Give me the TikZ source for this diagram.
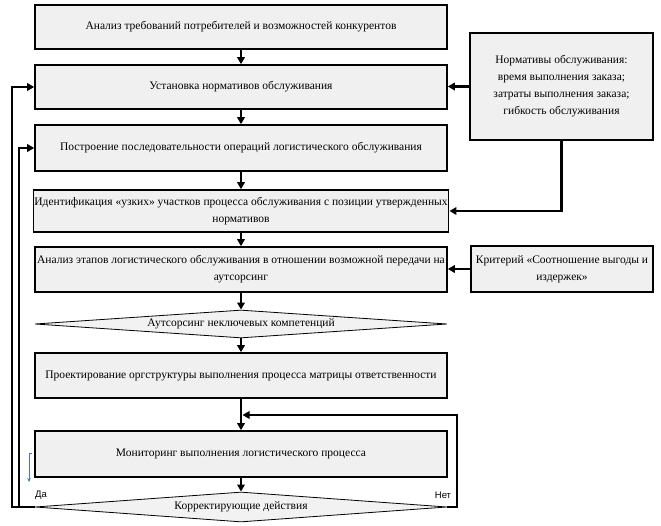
\documentclass[tikz,border=0pt]{standalone}
\usepackage{fontspec}
\setmainfont{Liberation Serif}
\setsansfont{Liberation Sans}
\usetikzlibrary{arrows.meta,shapes.geometric,calc,backgrounds}
\definecolor{markblue}{rgb}{0.25,0.45,0.8}
\tikzset{
  mainfont/.style={font=\fontsize{11.5}{17}\selectfont},
  box/.style={draw, line width=1.6pt, fill=black!6, minimum width=412pt, inner sep=1pt, align=center, mainfont},
  rbox/.style={draw, line width=1.6pt, fill=black!6, inner sep=1pt, align=center, mainfont},
  dia/.style={diamond, draw, line width=0.8pt, fill=black!5, minimum width=412pt, inner sep=0pt, align=center, mainfont},
  arr/.style={line width=2.2pt, -{Triangle[length=7pt,width=7.5pt]}},
  shdw/.style={black!60, dotted, line width=1.1pt},
  lbl/.style={font=\sffamily\fontsize{9.5}{11}\selectfont, inner sep=0pt}
}
\begin{document}
\begin{tikzpicture}[x=1pt,y=-1pt]
\fill[white] (0,0) rectangle (661,526);
\useasboundingbox (0,0) rectangle (661,526);
% main column
\node[box, minimum height=44pt] (b1) at (241,27) {Анализ требований потребителей и возможностей конкурентов};
\node[box, minimum height=44pt] (b2) at (241,87) {Установка нормативов обслуживания};
\node[box, minimum height=46pt] (b3) at (241,148) {Построение последовательности операций логистического обслуживания};
\node[box, minimum height=42pt] (b4) at (241,211) {Идентификация «узких» участков процесса обслуживания с позиции утвержденных\\нормативов};
\node[box, minimum height=45pt] (b5) at (241,269.5) {Анализ этапов логистического обслуживания в отношении возможной передачи на\\аутсорсинг};
\node[dia, shape aspect=14.7, minimum height=28pt] (d1) at (241,324) {Аутсорсинг неключевых компетенций};
\node[box, minimum height=45pt] (b6) at (241,375.5) {Проектирование оргструктуры выполнения процесса матрицы ответственности};
\node[box, minimum height=46pt] (b7) at (241,454) {Мониторинг выполнения логистического процесса};
\node[dia, shape aspect=13.7, minimum height=30pt] (d2) at (241,507) {Корректирующие действия};
% right boxes
\node[rbox, minimum width=183pt, minimum height=107pt] (r1) at (561.5,86.5) {Нормативы обслуживания:\\время выполнения заказа;\\затраты выполнения заказа;\\гибкость обслуживания};
\node[rbox, minimum width=182pt, minimum height=46pt] (r2) at (562,269) {Критерий «Соотношение выгоды и\\издержек»};
% shadows
\begin{scope}[on background layer]
\foreach \n in {b1,b2,b3,b4,b5,b6,b7,r1,r2}{
  \draw[shdw] ($(\n.north east)+(3.5,3)$) -- ($(\n.south east)+(3.5,4.5)$) -- ($(\n.south west)+(0,4.5)$);
}
\end{scope}
% main flow
\draw[arr] (b1.south) -- (b2.north);
\draw[arr] (b2.south) -- (b3.north);
\draw[arr] (b3.south) -- (b4.north);
\draw[arr] (b4.south) -- (b5.north);
\draw[arr] (b5.south) -- (d1.north);
\draw[arr] (d1.south) -- (b6.north);
\draw[arr] (b6.south) -- (b7.north);
\draw[arr] (b7.south) -- (d2.north);
% right inputs
\draw[arr] (r1.west) -- (r1.west -| b2.east);
\draw[arr] (r1.south) |- (b4.east);
\draw[arr] (r2.west) -- (r2.west -| b5.east);
% feedback loops
\coordinate (loopR) at (457,415);
\coordinate (xo) at (12,0);
\coordinate (xi) at (19,0);
\draw[arr] (d2.east) -| (loopR) -- ($(loopR -| b6.south)+(1.5,0)$);
\draw[arr] (d2.west) -- (d2.west -| xo) |- (b2.west);
\draw[arr] (d2.west) -- (d2.west -| xi) |- (b3.west);
% labels
\node[lbl] (da) at (41,495) {Да};
\node[lbl] (net) at (443,495) {Нет};
% small blue mark
\coordinate (bt) at (32,453);
\coordinate (bb) at (29,482);
\draw[markblue, line width=0.7pt, -{Stealth[length=4pt,width=3.5pt]}] (bt) -- (bt -| bb) -- (bb);
\end{tikzpicture}
\end{document}
